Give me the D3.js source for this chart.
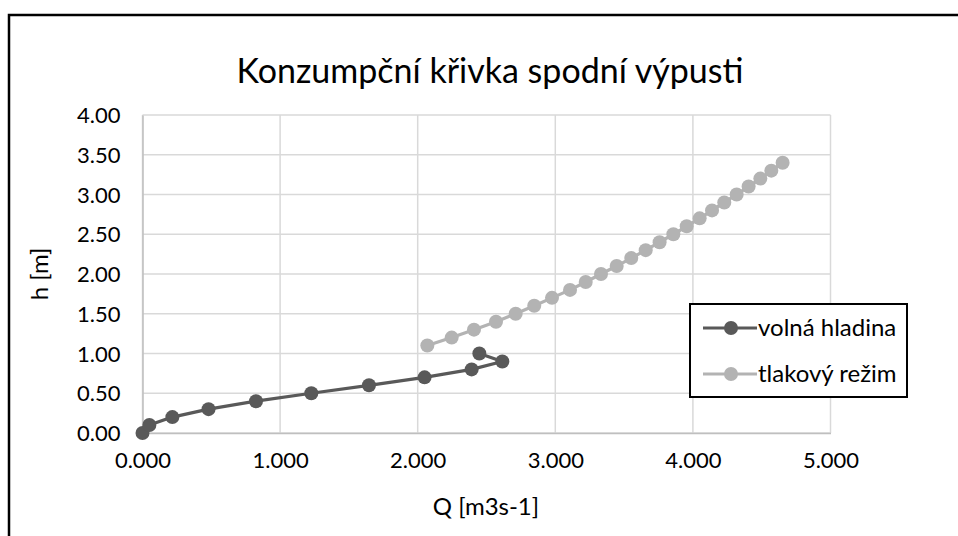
<!DOCTYPE html>
<html>
<head>
<meta charset="utf-8">
<script src="https://cdn.jsdelivr.net/npm/d3@7"></script>
<style>
  html, body { margin: 0; padding: 0; background: #fff; }
  svg { display: block; }
  text { font-family: Lato, "Open Sans", sans-serif; fill: #000; }
</style>
</head>
<body>
<svg id="chart" width="958" height="536"></svg>
<script>
// Series: free-surface flow (volná hladina) and pressurised flow (tlakový režim)
const volnaQ = [0, 0.05, 0.217, 0.48, 0.825, 1.227, 1.646, 2.05, 2.392, 2.615, 2.448];
const volnaH = [0, 0.1, 0.2, 0.3, 0.4, 0.5, 0.6, 0.7, 0.8, 0.9, 1.0];

const tlakQ = [2.07, 2.247, 2.409, 2.569, 2.712, 2.847, 2.976, 3.107, 3.221, 3.332,
               3.446, 3.552, 3.657, 3.758, 3.858, 3.955, 4.049, 4.139, 4.228, 4.318,
               4.405, 4.49, 4.57, 4.652];
const tlakH = [1.1, 1.2, 1.3, 1.4, 1.5, 1.6, 1.7, 1.8, 1.9, 2.0,
               2.1, 2.2, 2.3, 2.4, 2.5, 2.6, 2.7, 2.8, 2.9, 3.0,
               3.1, 3.2, 3.3, 3.4];

const xTicks = [0, 1, 2, 3, 4, 5];
const yTicks = [0, 0.5, 1, 1.5, 2, 2.5, 3, 3.5, 4];

const titleText = "Konzumpční křivka spodní výpusti";
const xTitle = "Q [m3s-1]";
const yTitle = "h [m]";
const seriesNames = ["volná hladina", "tlakový režim"];
const seriesColors = ["#595959", "#b3b3b3"];

const svg = d3.select("#chart");

// Outer chart frame (runs past the right and bottom edges)
svg.append("rect")
  .attr("x", 9).attr("y", 15)
  .attr("width", 1000).attr("height", 600)
  .attr("fill", "#fff").attr("stroke", "#000").attr("stroke-width", 2.5);

const plot = { left: 142.5, right: 830.5, top: 115, bottom: 433 };

const x = d3.scaleLinear().domain([0, 5]).range([plot.left, plot.right]);
const y = d3.scaleLinear().domain([0, 4]).range([plot.bottom, plot.top]);

// Gridlines
const grid = svg.append("g");
grid.selectAll("line.v").data(xTicks).join("line")
  .attr("x1", d => x(d)).attr("x2", d => x(d))
  .attr("y1", plot.top).attr("y2", plot.bottom)
  .attr("stroke", "#d9d9d9").attr("stroke-width", 1.5);
grid.selectAll("line.h").data(yTicks).join("line")
  .attr("x1", plot.left).attr("x2", plot.right)
  .attr("y1", d => y(d)).attr("y2", d => y(d))
  .attr("stroke", "#d9d9d9").attr("stroke-width", 1.5);

// Axes (labels only, lines drawn by the grid)
const xAxis = d3.axisBottom(x).tickValues(xTicks).tickFormat(d3.format(".3f")).tickSize(0).tickPadding(19);
const yAxis = d3.axisLeft(y).tickValues(yTicks).tickFormat(d3.format(".2f")).tickSize(0).tickPadding(22);

const gx = svg.append("g").attr("transform", `translate(0,${plot.bottom})`).call(xAxis);
const gy = svg.append("g").attr("transform", `translate(${plot.left},0)`).call(yAxis);
[gx, gy].forEach(g => {
  g.select(".domain").attr("stroke", "#bfbfbf").attr("stroke-width", 1.5);
  g.selectAll("text").attr("font-size", 22).attr("font-family", "Lato, sans-serif").attr("fill", "#000");
});
gy.selectAll("text").attr("dy", "0.35em");

// Series
const series = [
  { q: volnaQ, h: volnaH, color: seriesColors[0] },
  { q: tlakQ, h: tlakH, color: seriesColors[1] }
];
const line = d3.line().x(d => x(d[0])).y(d => y(d[1]));

series.forEach(s => {
  const pts = s.q.map((q, i) => [q, s.h[i]]);
  const g = svg.append("g");
  g.append("path").datum(pts).attr("d", line)
    .attr("fill", "none").attr("stroke", s.color).attr("stroke-width", 3.2)
    .attr("stroke-linejoin", "round");
  g.selectAll("circle").data(pts).join("circle")
    .attr("cx", d => x(d[0])).attr("cy", d => y(d[1])).attr("r", 7)
    .attr("fill", s.color);
});

// Title
svg.append("text")
  .attr("x", 490).attr("y", 83)
  .attr("text-anchor", "middle")
  .attr("font-size", 34)
  .text(titleText);

// Axis titles
svg.append("text")
  .attr("x", 486).attr("y", 515)
  .attr("text-anchor", "middle").attr("font-size", 24)
  .text(xTitle);
svg.append("text")
  .attr("transform", `translate(48,${(plot.top + plot.bottom) / 2}) rotate(-90)`)
  .attr("text-anchor", "middle").attr("font-size", 24)
  .text(yTitle);

// Legend
const legend = svg.append("g");
legend.append("rect")
  .attr("x", 690).attr("y", 304).attr("width", 217).attr("height", 93)
  .attr("fill", "#fff").attr("stroke", "#000").attr("stroke-width", 2);
const rows = [328, 374];
seriesNames.forEach((name, i) => {
  const row = legend.append("g");
  row.append("line")
    .attr("x1", 703).attr("x2", 757).attr("y1", rows[i]).attr("y2", rows[i])
    .attr("stroke", seriesColors[i]).attr("stroke-width", 3.2);
  row.append("circle").attr("cx", 731).attr("cy", rows[i]).attr("r", 7).attr("fill", seriesColors[i]);
  row.append("text").attr("x", 758).attr("y", rows[i]).attr("dy", "0.35em")
    .attr("font-size", 24).text(name);
});
</script>
</body>
</html>
